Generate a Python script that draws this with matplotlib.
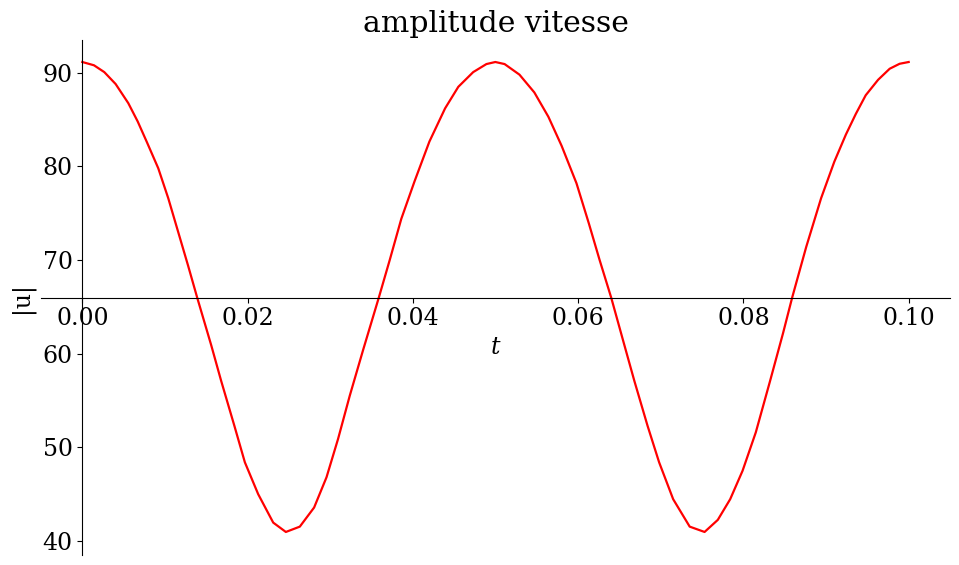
import matplotlib
matplotlib.use("Agg")
import matplotlib.pyplot as plt

t_values = [0.0, 0.00141, 0.00266, 0.00403, 0.00556, 0.0067, 0.00782, 0.00919,
            0.0104, 0.0116, 0.0128, 0.0139, 0.0156, 0.0168, 0.0184, 0.01967,
            0.02128, 0.0231, 0.02463, 0.02632, 0.02805, 0.02955, 0.03095, 0.03236,
            0.03398, 0.03588, 0.0372, 0.0386, 0.0402, 0.0420, 0.0439,
            0.0455, 0.0473, 0.0489, 0.04998, 0.0511, 0.0529, 0.0547, 0.0564,
            0.0580, 0.0598, 0.0613, 0.0626, 0.0640, 0.0656, 0.0668, 0.0684,
            0.0698, 0.0715, 0.0735, 0.0753, 0.0769, 0.0784, 0.0799, 0.0815,
            0.0832, 0.0848, 0.0859, 0.0876, 0.0894, 0.0910, 0.0924, 0.0936,
            0.0948, 0.0963, 0.0977, 0.0989, 0.1000]
u_values = [91.15, 90.8, 90.07, 88.8, 86.76, 84.8, 82.58, 79.8,
            76.6, 73.0, 69.4, 65.99, 60.9, 57.1, 52.3, 48.4,
            45.0, 41.96, 40.96, 41.53, 43.57, 46.8, 50.9, 55.5,
            60.4, 65.99, 70.0, 74.4, 78.4, 82.65, 86.2,
            88.5, 90.07, 90.93, 91.15, 90.93, 89.8, 87.9, 85.3,
            82.2, 78.2, 73.9, 70.0, 65.99, 60.9, 57.1, 52.3,
            48.4, 44.46, 41.53, 40.96, 42.25, 44.46, 47.5, 51.6,
            57.0, 62.2, 65.99, 71.4, 76.6, 80.5, 83.4, 85.6,
            87.6, 89.25, 90.43, 90.96, 91.15]

title = "amplitude vitesse"
xlabel = "$t$"
ylabel = "|u|"

plt.rcParams['font.family'] = ['DejaVu Serif']
plt.rcParams['mathtext.fontset'] = 'dejavuserif'
plt.rcParams['font.size'] = 17

fig = plt.figure(figsize=(9.59, 5.65), dpi=100)
ax = fig.add_axes([41/959, 10/565, 909/959, 515/565])
ax.plot(t_values, u_values, color='red', linewidth=1.6)
ax.set_xlim(-0.005, 0.105)
ax.set_ylim(38.5, 93.5)
ax.spines['top'].set_visible(False)
ax.spines['right'].set_visible(False)
ax.spines['left'].set_position(('data', 0))
ax.spines['bottom'].set_position('center')
ax.set_xticks([0.0, 0.02, 0.04, 0.06, 0.08, 0.10])
ax.set_yticks([40, 50, 60, 70, 80, 90])
ax.set_title(title, fontsize=21.5)
ax.set_xlabel(xlabel)
ax.set_ylabel(ylabel, labelpad=6)
fig.savefig("out.png", dpi=100)
